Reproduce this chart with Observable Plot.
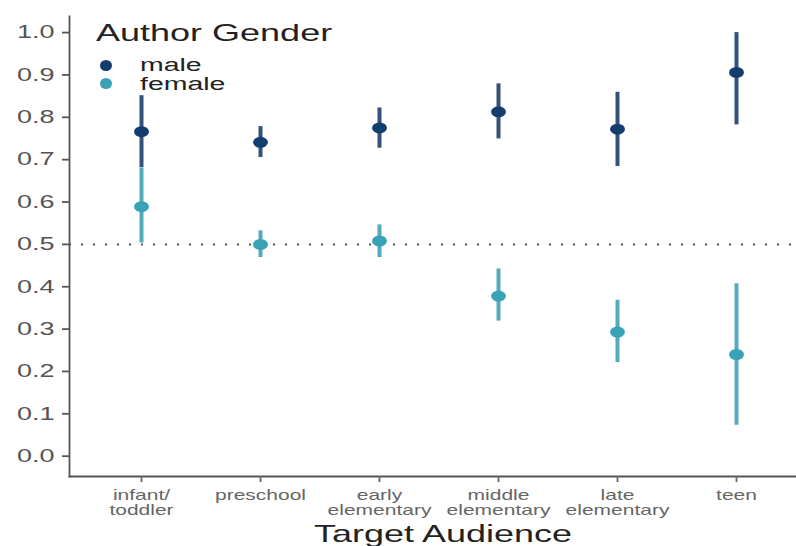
<!DOCTYPE html>
<html>
<head>
<meta charset="utf-8">
<script src="https://cdn.jsdelivr.net/npm/d3@7"></script>
<script src="https://cdn.jsdelivr.net/npm/@observablehq/plot@0.6"></script>
<style>
  html, body { margin: 0; padding: 0; background: #fff; }
  #wrap { position: relative; width: 796px; height: 546px; font-family: "Liberation Sans", Arial, Helvetica, sans-serif; }
  #legend { position: absolute; left: 0; top: 0; width: 400px; height: 100px; pointer-events: none; color: #222; }
  #legend .lt { position: absolute; white-space: nowrap; line-height: 1; transform: scaleX(1.5); transform-origin: 0 50%; }
  #legend .sw { position: absolute; width: 12px; height: 11px; border-radius: 50%; }
</style>
</head>
<body>
<div id="wrap">
  <div id="chart"></div>
  <div id="legend"></div>
</div>
<script>
const categories = ["infant/toddler", "preschool", "early elementary", "middle elementary", "late elementary", "teen"];
const tickLabels = ["infant/\ntoddler", "preschool", "early\nelementary", "middle\nelementary", "late\nelementary", "teen"];
const genders = ["male", "female"];

const maleMean = [0.766, 0.741, 0.775, 0.813, 0.772, 0.906];
const maleLow  = [0.681, 0.705, 0.727, 0.749, 0.684, 0.782];
const maleHigh = [0.851, 0.778, 0.822, 0.879, 0.859, 1.000];

const femaleMean = [0.589, 0.500, 0.508, 0.378, 0.293, 0.240];
const femaleLow  = [0.503, 0.469, 0.469, 0.319, 0.221, 0.073];
const femaleHigh = [0.680, 0.532, 0.546, 0.442, 0.368, 0.407];

const yTicks = [0, 0.1, 0.2, 0.3, 0.4, 0.5, 0.6, 0.7, 0.8, 0.9, 1.0];
const refLine = [0.5];

const pointColors = {male: "#133c6f", female: "#38a2b7"};
const lineColors = {male: "#34517a", female: "#55abbc"};

const rows = [];
categories.forEach((c, i) => {
  rows.push({cat: c, gender: "male", mean: maleMean[i], lo: maleLow[i], hi: maleHigh[i]});
  rows.push({cat: c, gender: "female", mean: femaleMean[i], lo: femaleLow[i], hi: femaleHigh[i]});
});
const ordered = [...rows.filter(d => d.gender === "female"), ...rows.filter(d => d.gender === "male")];
const labelOf = new Map(categories.map((c, i) => [c, tickLabels[i]]));

const chart = Plot.plot({
  width: 796,
  height: 546,
  marginLeft: 69,
  marginRight: 0,
  marginTop: 16,
  marginBottom: 70,
  style: {fontFamily: "'Liberation Sans', Arial, Helvetica, sans-serif", background: "#fff"},
  x: {type: "point", domain: categories, range: [140, 737], padding: 0},
  y: {domain: [-0.048, 1.038]},
  marks: [
    Plot.ruleY(refLine, {stroke: "#555", strokeWidth: 2, strokeDasharray: "2,10"}),
    Plot.ruleX(ordered, {x: "cat", y1: "lo", y2: "hi", stroke: d => lineColors[d.gender], strokeWidth: 4}),
    Plot.dot(ordered, {x: "cat", y: "mean", fill: d => pointColors[d.gender], r: 5.5, stroke: "none", className: "edot"}),
    Plot.frame({anchor: "left", stroke: "#555", strokeWidth: 1.8}),
    Plot.frame({anchor: "bottom", stroke: "#555", strokeWidth: 1.8}),
    Plot.axisY({ticks: yTicks, tickFormat: d3.format(".1f"), tickSize: 7, tickPadding: 8, fontSize: 18, color: "#555", label: null, stroke: "#555", strokeWidth: 1.8}),
    Plot.axisX({tickFormat: d => labelOf.get(d), tickSize: 6, tickPadding: 7, fontSize: 14, color: "#666", label: null, lineHeight: 1.08, strokeWidth: 1.8}),
    Plot.text(["Target Audience"], {frameAnchor: "bottom", dx: 10, dy: 65, lineAnchor: "bottom", fontSize: 24, fill: "#222"})
  ]
});
document.getElementById("chart").appendChild(chart);

// horizontal stretch of the reference's text and points
chart.querySelectorAll("text").forEach(t => {
  const tr = t.getAttribute("transform") || "";
  t.setAttribute("transform", tr + " scale(1.5,1)");
});
chart.querySelectorAll(".edot circle").forEach(c => {
  const cx = +c.getAttribute("cx"), cy = +c.getAttribute("cy");
  c.setAttribute("transform", `translate(${cx},${cy}) scale(1.35,1) translate(${-cx},${-cy})`);
});

const legend = document.getElementById("legend");
legend.innerHTML =
  `<div class="lt" style="left:96px;top:21px;font-size:24px">Author Gender</div>` +
  `<span class="sw" style="left:100px;top:60px;background:${pointColors.male}"></span>` +
  `<div class="lt" style="left:140px;top:56px;font-size:18px;transform:scaleX(1.58)">${genders[0]}</div>` +
  `<span class="sw" style="left:100px;top:78px;background:${pointColors.female}"></span>` +
  `<div class="lt" style="left:140px;top:75px;font-size:18px;transform:scaleX(1.58)">${genders[1]}</div>`;
</script>
</body>
</html>
